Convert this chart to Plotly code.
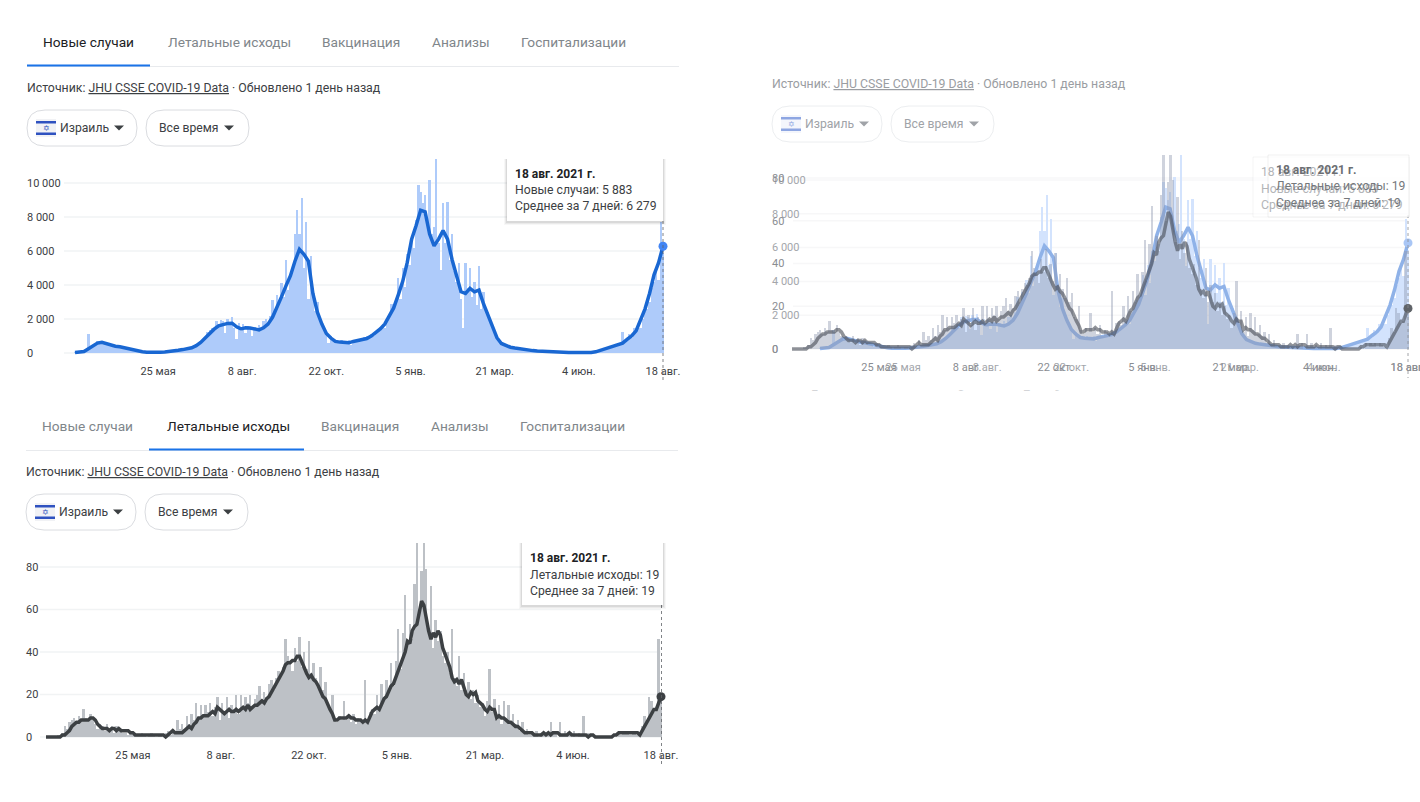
import pandas as pd
from datetime import timedelta
import plotly.graph_objects as go

W, H = 1420, 802
FONT = "Roboto"
cases_daily = [
 10,20,40,60,80,120,1100,300,450,500,700,650,680,600,550,450,480,420,400,400,
 360,340,300,260,240,200,160,130,110,90,70,60,50,30,20,20,15,20,30,40,
 60,70,90,110,130,150,170,180,200,230,250,290,320,380,430,560,650,800,950,1250,
 1350,1500,1450,1900,1700,1950,1900,1200,2000,1700,2100,1500,800,1750,1300,1700,1200,1600,1500,1000,
 1550,1350,1650,1500,1900,2000,1700,2200,3100,2500,3400,2900,4100,3300,5500,3700,4600,5200,7000,8400,
 7000,9100,5000,7700,3200,5700,3800,2500,3000,2000,1700,1400,1200,600,1000,700,750,700,600,750,
 700,600,780,500,780,650,850,700,800,950,1000,850,1100,1000,1200,1400,1300,1600,1500,2000,
 2100,2900,2600,3000,4400,3200,5000,3900,5800,5200,6800,6200,7800,9900,9500,8800,9300,8000,10200,7000,
 7400,11600,6500,4900,8800,6500,8900,5500,7000,4800,4200,5300,3200,1500,5300,3800,5000,3300,4200,2800,
 5100,2600,3600,2500,2400,1900,1600,1200,1000,650,600,450,420,400,350,320,280,260,240,220,
 210,190,180,170,160,140,130,120,110,100,90,80,70,60,60,50,50,40,40,35,
 30,30,30,25,30,25,25,25,25,20,30,30,60,100,150,210,230,260,330,300,
 400,380,500,450,1250,600,750,1100,900,1500,1300,1400,1500,2000,2400,2600,3000,3800,4200,5000,
 4300,7700,5883]
cases_avg = [
 30,50,90,250,430,580,630,540,440,400,
 370,300,230,160,110,70,50,30,20,40,
 60,80,120,160,200,250,310,430,620,880,
 1150,1400,1600,1690,1740,1750,1540,1420,1480,1470,
 1400,1360,1480,1700,2100,2650,3300,3950,4550,5400,
 6100,5800,5400,3500,2400,1700,1150,880,680,640,
 620,600,680,720,770,850,1000,1200,1420,1700,
 2200,2650,3400,4200,5300,6700,7500,8400,8300,7000,
 6300,6700,7200,6700,5500,4500,3600,3500,3800,3600,
 3700,2900,2200,1500,900,560,430,340,290,240,
 200,170,140,120,100,80,60,50,40,35,
 30,30,25,25,25,30,70,150,220,310,
 390,450,580,800,1000,1300,1900,2600,3500,4600,
 5300,6279]
deaths_daily = [
 0,0,0,0,0,1,1,2,5,4,7,8,9,7,10,8,13,9,8,11,
 8,6,4,6,5,3,6,3,5,2,5,4,3,2,2,1,3,1,1,1,
 1,2,1,0,1,2,1,0,1,1,0,2,3,1,4,2,8,4,6,4,
 10,6,11,8,16,9,15,10,15,12,16,10,14,19,8,16,11,19,9,15,
 13,20,11,20,14,19,16,20,14,18,20,24,18,21,19,25,27,22,28,31,
 30,33,46,38,35,31,42,36,47,33,40,32,45,30,35,28,24,33,22,26,
 15,14,20,9,7,10,8,17,8,10,7,11,6,9,8,6,27,7,12,13,
 11,20,14,25,18,27,22,35,24,36,51,32,49,67,44,53,46,72,95,60,
 78,96,79,50,71,42,55,45,50,38,35,40,30,51,28,24,38,22,30,22,
 26,18,22,16,20,14,16,10,17,32,12,18,8,15,6,17,9,15,7,11,
 6,8,3,7,2,4,1,2,1,3,0,2,1,0,1,7,2,3,0,7,
 1,3,1,2,0,3,0,2,1,10,0,2,1,0,0,0,0,0,0,0,
 0,0,1,0,3,1,3,2,3,1,3,2,1,0,5,10,8,19,17,12,
 13,46,19]
deaths_avg = [
 0,0,0,0,0,0,0,1,1,2,3,5,6,7,7,8,8,8,8,9,
 9,8,6,5,4,4,4,3,4,4,3,4,3,3,3,3,2,2,1,1,
 1,1,1,1,1,1,1,1,1,1,1,0,1,2,3,2,2,2,2,3,
 4,5,4,6,7,9,9,10,10,10,11,12,11,14,13,12,11,12,13,12,
 12,13,12,13,14,13,15,13,14,15,15,16,17,16,18,19,21,23,25,27,
 29,31,34,35,35,36,36,38,38,35,33,30,28,29,27,26,24,21,19,18,
 15,13,11,8,8,9,9,9,9,10,9,9,8,8,8,7,8,7,10,12,
 13,14,13,16,18,19,22,24,25,28,31,33,36,40,45,44,50,52,53,58,
 64,62,55,50,46,49,47,50,48,42,39,36,33,28,26,27,25,27,23,20,
 19,21,20,21,17,16,15,13,12,14,13,13,9,10,9,9,8,7,7,6,
 5,5,4,3,2,2,2,2,1,1,1,1,2,1,2,1,2,2,2,1,
 1,1,1,2,1,1,1,1,1,1,1,0,1,1,0,0,0,0,0,0,
 0,0,1,1,2,2,2,2,2,2,2,2,2,1,3,5,7,9,11,13,
 13,16,19]
tick_dates = ["2020-05-25","2020-08-08","2020-10-22","2021-01-05","2021-03-21","2021-06-04","2021-08-18"]
tick_labels = ["25 мая","8 авг.","22 окт.","5 янв.","21 мар.","4 июн.","18 авг."]
case_vals = [0,2000,4000,6000,8000,10000]
case_text = ["0","2 000","4 000","6 000","8 000","10 000"]
death_vals = [0,20,40,60,80]
death_text = ["0","20","40","60","80"]
tab_names = ["Новые случаи","Летальные исходы","Вакцинация","Анализы","Госпитализации"]
END = pd.Timestamp("2021-08-18")
DAYS = 524
day_x = pd.date_range(end=END, periods=len(cases_daily), freq="2D")
avg_x = pd.date_range(end=END, periods=len(cases_avg), freq="4D")

def fx(x): return x / W
def fy(y): return 1 - y / H

fig = go.Figure()
shapes, annos = [], []

def rect(x0, y0, x1, y1, fill, line="rgba(0,0,0,0)", lw=0, layer="above"):
    shapes.append(dict(type="rect", xref="paper", yref="paper", x0=fx(x0), x1=fx(x1), y0=fy(y1), y1=fy(y0),
                       fillcolor=fill, line=dict(color=line, width=lw), layer=layer))

def text(x, y, s, size=12.2, color="#3c4043", anchor="left"):
    annos.append(dict(x=fx(x), y=fy(y), xref="paper", yref="paper", text=s, showarrow=False, xanchor=anchor,
                      yanchor="middle", align="left", font=dict(family=FONT, size=size, color=color),
                      borderpad=0, borderwidth=0))

def pill(x0, x1, y0, y1, color):
    r = (y1 - y0) / 2
    a, b, c, d = fx(x0), fx(x1), fy(y0), fy(y1)
    rx, ry = r / W, r / H
    path = (f"M {a+rx} {c} L {b-rx} {c} Q {b} {c} {b} {c-ry} Q {b} {d} {b-rx} {d} "
            f"L {a+rx} {d} Q {a} {d} {a} {c-ry} Q {a} {c} {a+rx} {c} Z")
    shapes.append(dict(type="path", xref="paper", yref="paper", path=path, fillcolor="white",
                       line=dict(color=color, width=1), layer="above"))

def caret(x, y, color):
    path = f"M {fx(x-5)} {fy(y-2.5)} L {fx(x+5)} {fy(y-2.5)} L {fx(x)} {fy(y+2.5)} Z"
    shapes.append(dict(type="path", xref="paper", yref="paper", path=path, fillcolor=color,
                       line=dict(width=0), layer="above"))

def controls(x, y, faded=False):
    border = "#eceef0" if faded else "#dadce0"
    tc = "#a0a3a8" if faded else "#3c4043"
    blue = "#8ea6e2" if faded else "#2f52c0"
    pill(x, x + 110, y - 18, y + 18, border)
    pill(x + 119, x + 222, y - 18, y + 18, border)
    rect(x + 9, y - 9, x + 29, y + 9, "#f4f6fc" if faded else "#f1f2f5")
    rect(x + 9, y - 7, x + 29, y - 4.5, blue)
    rect(x + 9, y + 4.5, x + 29, y + 7, blue)
    annos.append(dict(x=fx(x + 19), y=fy(y), xref="paper", yref="paper", text="✡", showarrow=False,
                      xanchor="center", yanchor="middle", font=dict(family="DejaVu Sans", size=8, color=blue)))
    text(x + 33, y, "Израиль", 12.2, tc)
    caret(x + 92, y, tc)
    text(x + 132, y, "Все время", 12.2, tc)
    caret(x + 202, y, tc)

def tooltip(x0, x1, y0, y1, fill="white", shadow=True):
    if shadow:
        for i, a in zip((3, 2, 1), (0.03, 0.05, 0.07)):
            rect(x0 - i, y0, x1 + i, y1 + i + 1, f"rgba(0,0,0,{a})")
    rect(x0, y0, x1, y1, fill)

axis_no = 0
def panel(daily, avg, avg_dates, x0_px, x_end_px, zero_px, top_px, scale_val, scale_px, vals, labels,
          bar_col, line_col, marker_col, tick_col, grid_col, label_left, grid_left, lw=3.5, tick_gap=3):
    global axis_no
    axis_no += 1
    sfx = "" if axis_no == 1 else str(axis_no)
    xa, ya = "x" + sfx, "y" + sfx
    per_day = (x_end_px - x0_px) / DAYS
    start = END - timedelta(days=DAYS)
    right_px = min(x_end_px + 9, W)
    bottom_px = zero_px + 5
    x_lo = start - timedelta(days=(x0_px - label_left) / per_day)
    x_hi = END + timedelta(days=(right_px - x_end_px) / per_day)
    vpp = scale_val / scale_px
    fig.add_trace(go.Bar(x=day_x, y=daily, width=2 * 86400000, marker=dict(color=bar_col, line=dict(width=0)),
                         xaxis=xa, yaxis=ya, showlegend=False, hoverinfo="skip"))
    fig.add_trace(go.Scatter(x=avg_dates, y=avg, mode="lines", line=dict(color=line_col, width=lw),
                             xaxis=xa, yaxis=ya, showlegend=False, hoverinfo="skip"))
    fig.add_trace(go.Scatter(x=[END], y=[avg[-1]], mode="markers", marker=dict(color=marker_col, size=9),
                             cliponaxis=False, xaxis=xa, yaxis=ya, showlegend=False, hoverinfo="skip"))
    fig.update_layout({
        "xaxis" + sfx: dict(domain=[fx(label_left), fx(right_px)], range=[x_lo, x_hi], anchor=ya, type="date",
                            tickmode="array", tickvals=tick_dates, ticktext=tick_labels, showgrid=False,
                            zeroline=False, showline=False, ticks="outside", ticklen=tick_gap,
                            ticklabeloverflow="allow", tickcolor="rgba(0,0,0,0)",
                            tickfont=dict(family=FONT, size=11, color=tick_col)),
        "yaxis" + sfx: dict(domain=[fy(bottom_px), fy(top_px)],
                            range=[-(bottom_px - zero_px) * vpp, (zero_px - top_px) * vpp],
                            anchor=xa, tickmode="array", tickvals=vals, ticktext=labels, showgrid=False,
                            zeroline=False, showline=False, ticks="", ticklabelposition="inside",
                            ticklabeloverflow="allow", tickfont=dict(family=FONT, size=11, color=tick_col)),
    })
    for v in vals:
        shapes.append(dict(type="line", xref="paper", yref=ya, x0=fx(grid_left), x1=fx(x_end_px), y0=v, y1=v,
                           line=dict(color=grid_col, width=1.5), layer="below"))

panel(cases_daily, cases_avg, avg_x, 820, 1408, 349, 155, 10000, 169, case_vals, case_text,
      "#d3e3fd", "#8fb2e8", "#a9c6f5", "#a3a6ab", "#f7f7f8", 769, 793)
panel(deaths_daily, deaths_avg, day_x, 792, 1408, 349, 155, 80, 171, death_vals, death_text,
      "rgba(140,150,175,0.42)", "rgba(70,75,85,0.6)", "#5f6368", "#8a8d92", "#f7f7f8", 769, 793)
panel(cases_daily, cases_avg, avg_x, 75, 663, 353, 159, 10000, 170, case_vals, case_text,
      "#aecbfa", "#1967d2", "#4285f4", "#3c4043", "#f1f3f4", 24, 64)
panel(deaths_daily, deaths_avg, day_x, 46, 661, 737, 543, 80, 170, death_vals, death_text,
      "#bdc1c6", "#3c4043", "#3c4043", "#3c4043", "#f1f3f4", 23, 40)

for x, y0, y1, col in [(663, 221, 380, "#5f6368"), (661.5, 605, 764, "#5f6368"), (1408, 215, 378, "#8a8d92")]:
    shapes.append(dict(type="line", xref="paper", yref="paper", x0=fx(x), x1=fx(x), y0=fy(y0), y1=fy(y1),
                       line=dict(color=col, width=0.8, dash="dot"), layer="above"))

for x0, y, active in [(43, 42, 0), (42, 426, 1)]:
    for i, (name, o) in enumerate(zip(tab_names, (0, 125, 279, 389, 478))):
        text(x0 + o, y, name, 13.7, "#202124" if i == active else "#80868b")
rect(27, 66, 679, 67, "#e8eaed")
rect(27, 64.5, 150, 66.5, "#1a73e8")
rect(26, 450, 678, 451, "#e8eaed")
rect(149, 448.5, 304, 450.5, "#1a73e8")

src = "Источник: <u>JHU CSSE COVID-19 Data</u> · Обновлено 1 день назад"
text(27, 88, src, 12.3, "#3c4043")
text(26, 472, src, 12.3, "#3c4043")
text(772, 84, src, 12.3, "#9a9da2")

controls(27, 128)
controls(26, 512)
controls(772, 124, faded=True)

tooltip(507, 663, 159, 221)
text(515, 174, "<b>18 авг. 2021 г.</b>", 12, "#202124")
text(515, 190, "Новые случаи: 5 883")
text(515, 206, "Среднее за 7 дней: 6 279")
tooltip(522, 663, 543, 605)
text(530, 558, "<b>18 авг. 2021 г.</b>", 12, "#202124")
text(530, 575, "Летальные исходы: 19")
text(530, 591, "Среднее за 7 дней: 19")
rect(1253, 157, 1409, 217, "rgba(255,255,255,0.55)", "rgba(0,0,0,0.04)", 1)
rect(1268, 155, 1409, 217, "rgba(255,255,255,0.55)", "rgba(0,0,0,0.06)", 1)
text(1261, 172, "18 авг. 2021 г.", 12.2, "#b3b5b8")
text(1261, 189, "Новые случаи: 5 883", 12.2, "#b3b5b8")
text(1261, 205, "Среднее за 7 дней: 6 279", 12.2, "#b3b5b8")
text(1276, 170, "<b>18 авг. 2021 г.</b>", 12, "#6b6e72")
text(1276, 186, "Летальные исходы: 19", 12.2, "#75787c")
text(1276, 203, "Среднее за 7 дней: 19", 12.2, "#75787c")

text(810, 395, "Летальные исходы", 12, "#a8abb0")
text(957, 395, "Среднее за 7 дней", 12, "#a8abb0")
annos.append(dict(x=fx(780), y=fy(390), xref="paper", yref="paper", xanchor="left", yanchor="top", text=" ",
                  showarrow=False, width=320, height=16, bgcolor="white", borderpad=0))

fig.update_layout(width=W, height=H, margin=dict(l=0, r=0, t=0, b=0, autoexpand=False),
                  plot_bgcolor="rgba(0,0,0,0)", paper_bgcolor="white", bargap=0, shapes=shapes,
                  annotations=annos, showlegend=False, font=dict(family=FONT))
fig.write_html("out.html", config=dict(displayModeBar=False),
               post_script="document.body.style.margin='0';document.body.style.overflow='hidden';")
